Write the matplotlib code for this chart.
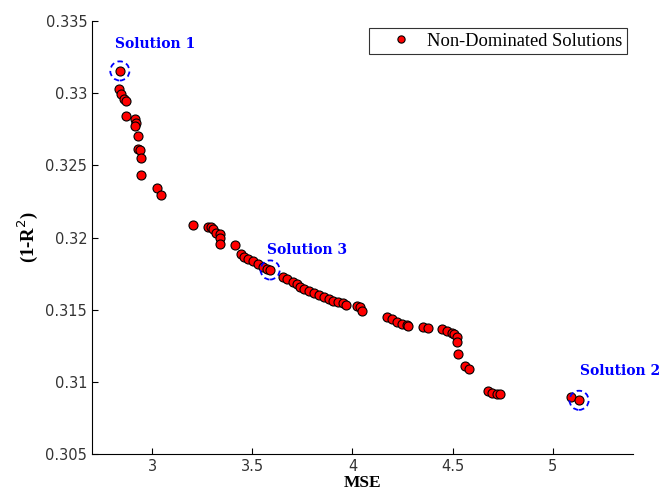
import matplotlib.pyplot as plt
from matplotlib.ticker import FuncFormatter

# Frente de Pareto: MSE frente a (1-R^2)
mse = [2.839, 2.837, 2.844, 2.862, 2.869, 2.870, 2.914, 2.919, 2.917, 2.932,
       2.932, 2.939, 2.944, 2.944, 3.025, 3.043, 3.204, 3.281, 3.294, 3.306,
       3.319, 3.338, 3.338, 3.341, 3.414, 3.444, 3.460, 3.480, 3.505, 3.529,
       3.555, 3.575, 3.589, 3.652, 3.672, 3.702, 3.722, 3.736, 3.756, 3.781,
       3.806, 3.831, 3.857, 3.882, 3.904, 3.929, 3.951, 3.968, 4.021, 4.037,
       4.046, 4.171, 4.195, 4.220, 4.245, 4.270, 4.279, 4.350, 4.378, 4.445,
       4.470, 4.495, 4.508, 4.520, 4.520, 4.526, 4.561, 4.583, 4.677, 4.694,
       4.719, 4.736, 5.090, 5.131]
one_minus_r2 = [0.33154, 0.33027, 0.32992, 0.32958, 0.32948, 0.32840, 0.32819,
                0.32795, 0.32775, 0.32705, 0.32613, 0.32606, 0.32553, 0.32431,
                0.32345, 0.32297, 0.32087, 0.32075, 0.32071, 0.32059, 0.32029,
                0.32022, 0.31996, 0.31957, 0.31950, 0.31886, 0.31867, 0.31853,
                0.31837, 0.31818, 0.31794, 0.31780, 0.31775, 0.31728, 0.31710,
                0.31690, 0.31678, 0.31659, 0.31645, 0.31632, 0.31618, 0.31600,
                0.31586, 0.31572, 0.31562, 0.31555, 0.31544, 0.31532, 0.31525,
                0.31520, 0.31491, 0.31451, 0.31433, 0.31417, 0.31401, 0.31394,
                0.31387, 0.31382, 0.31371, 0.31366, 0.31355, 0.31341, 0.31329,
                0.31313, 0.31276, 0.31193, 0.31110, 0.31087, 0.30939, 0.30925,
                0.30914, 0.30914, 0.30893, 0.30872]

# Soluciones destacadas (índice en las listas) y desplazamiento del texto en píxeles
sol_labels = ['Solution 1', 'Solution 2', 'Solution 3']
sol_index = [0, 73, 32]
sol_offset = [(-5, 27), (1, 29), (-3, 20)]

x_ticks = [3, 3.5, 4, 4.5, 5]
y_ticks = [0.305, 0.31, 0.315, 0.32, 0.325, 0.33, 0.335]

fig = plt.figure(figsize=(6.59, 4.93), dpi=100)
ax = fig.add_axes([0.1396, 0.0791, 0.8209, 0.8783])

ax.plot(mse, one_minus_r2, 'o', color='red', markeredgecolor='black',
        markeredgewidth=0.8, markersize=6.5, label='Non-Dominated Solutions')

# Círculos discontinuos alrededor de las soluciones elegidas
sx = [mse[i] for i in sol_index]
sy = [one_minus_r2[i] for i in sol_index]
ax.scatter(sx, sy, s=190, facecolors='none', edgecolors='blue',
           linewidths=1.3, linestyle=(0, (3, 2)), zorder=3)

for nombre, i, off in zip(sol_labels, sol_index, sol_offset):
    ax.annotate(nombre, (mse[i], one_minus_r2[i]), xytext=off,
                textcoords='offset pixels', color='blue', fontsize=10,
                fontweight='bold', family='DejaVu Serif', va='center',
                annotation_clip=False)

ax.set_xlim(2.7, 5.4)
ax.set_ylim(0.305, 0.335)
ax.set_xticks(x_ticks)
ax.set_yticks(y_ticks)
ax.yaxis.set_major_formatter(FuncFormatter(lambda v, p: ('%.3f' % v).rstrip('0')))
ax.xaxis.set_major_formatter(FuncFormatter(lambda v, p: ('%.1f' % v).rstrip('0').rstrip('.')))

for s in ['top', 'right']:
    ax.spines[s].set_visible(False)
ax.tick_params(direction='in', length=4, labelsize=10.5, labelcolor='#333333')

ax.set_xlabel('MSE', fontsize=12.5, fontweight='bold', family='Liberation Serif', labelpad=1)
ax.set_ylabel('(1-R$^2$)', fontsize=13.5, fontweight='bold', family='Liberation Serif', labelpad=4)

leg = ax.legend(loc='upper right', bbox_to_anchor=(0.989, 0.984), borderaxespad=0,
                fancybox=False, edgecolor='black',
                prop={'family': 'Liberation Serif', 'size': 13.3},
                markerscale=0.8, handlelength=3.0, handletextpad=-0.1, borderpad=0.25)
leg.get_frame().set_linewidth(0.8)

fig.savefig('out.png', dpi=100)
